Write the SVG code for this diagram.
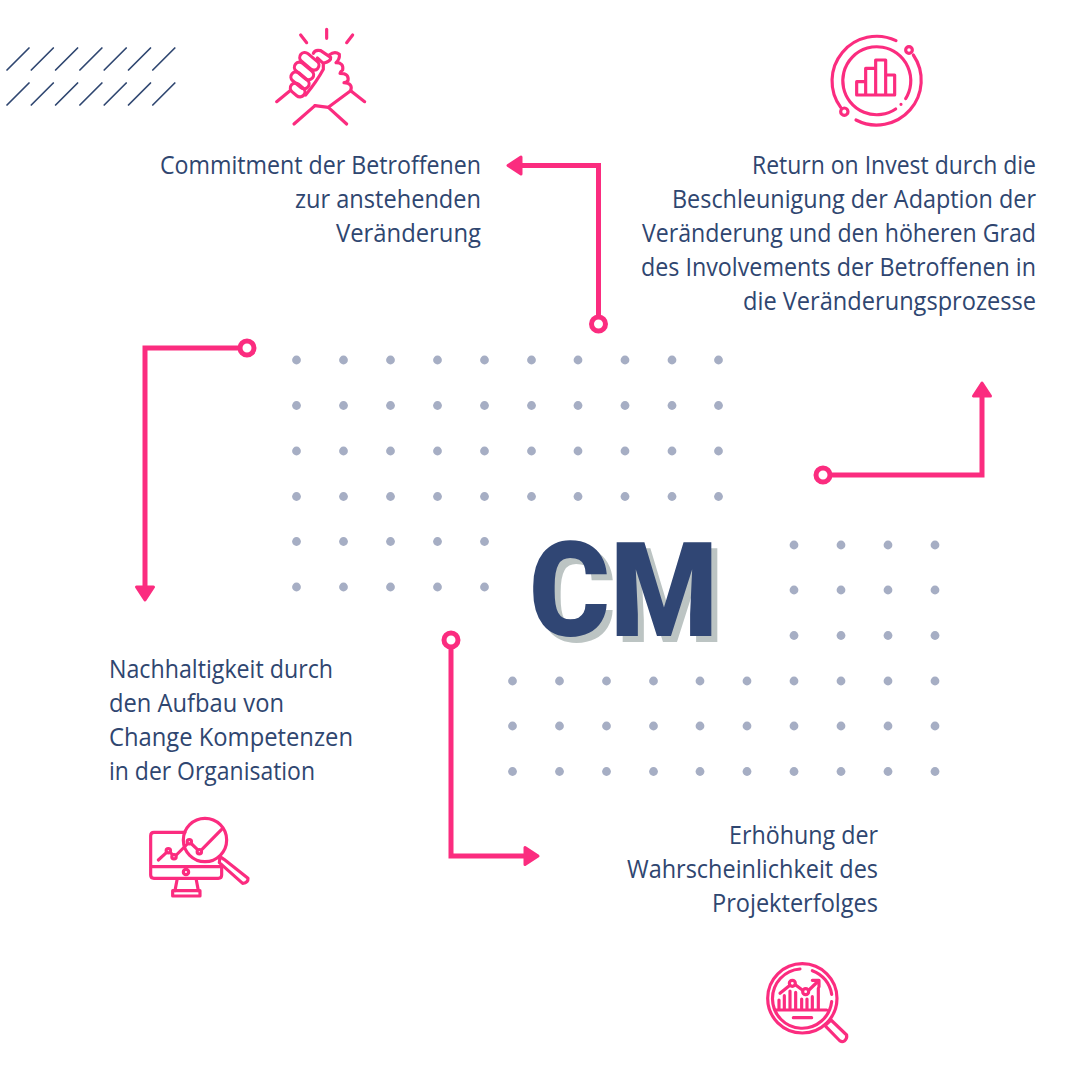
<svg xmlns="http://www.w3.org/2000/svg" width="1080" height="1080" viewBox="0 0 1080 1080">
<style>
.t{font-family:"Open Sans","Noto Sans",sans-serif;font-size:25.5px;fill:#2f4670}
.cm{font-family:"Roboto","Liberation Sans",sans-serif;font-weight:900;font-size:132px;fill:#304674;filter:drop-shadow(6px 6px 0 #bcc4c3)}
.c{fill:none;stroke:#fb2c7f;stroke-width:5}
.h{fill:#fb2c7f;stroke:#fb2c7f;stroke-width:3;stroke-linejoin:round}
.i{fill:none;stroke:#fb2c7f;stroke-width:9.5;stroke-linecap:round;stroke-linejoin:round}
.s{stroke:#2f4670;stroke-width:1.7;stroke-linecap:round}
</style>
<defs>
<circle id="d" r="4.4" fill="#a6aec4"/>
<path id="sl" d="M0 0L22 -22"/>
</defs>
<g id="slashes" class="s">
<use href="#sl" x="7" y="70"/><use href="#sl" x="31.3" y="70"/><use href="#sl" x="55.6" y="70"/><use href="#sl" x="79.9" y="70"/><use href="#sl" x="104.2" y="70"/><use href="#sl" x="128.5" y="70"/><use href="#sl" x="152.8" y="70"/>
<use href="#sl" x="7" y="105"/><use href="#sl" x="31.3" y="105"/><use href="#sl" x="55.6" y="105"/><use href="#sl" x="79.9" y="105"/><use href="#sl" x="104.2" y="105"/><use href="#sl" x="128.5" y="105"/><use href="#sl" x="152.8" y="105"/>
</g>
<g id="dots-a">
<use href="#d" x="296.5" y="360"/><use href="#d" x="343.5" y="360"/><use href="#d" x="390.5" y="360"/><use href="#d" x="437.5" y="360"/><use href="#d" x="484.5" y="360"/><use href="#d" x="531.5" y="360"/><use href="#d" x="578" y="360"/><use href="#d" x="625" y="360"/><use href="#d" x="672" y="360"/><use href="#d" x="718.5" y="360"/>
<use href="#d" x="296.5" y="405.5"/><use href="#d" x="343.5" y="405.5"/><use href="#d" x="390.5" y="405.5"/><use href="#d" x="437.5" y="405.5"/><use href="#d" x="484.5" y="405.5"/><use href="#d" x="531.5" y="405.5"/><use href="#d" x="578" y="405.5"/><use href="#d" x="625" y="405.5"/><use href="#d" x="672" y="405.5"/><use href="#d" x="718.5" y="405.5"/>
<use href="#d" x="296.5" y="451"/><use href="#d" x="343.5" y="451"/><use href="#d" x="390.5" y="451"/><use href="#d" x="437.5" y="451"/><use href="#d" x="484.5" y="451"/><use href="#d" x="531.5" y="451"/><use href="#d" x="578" y="451"/><use href="#d" x="625" y="451"/><use href="#d" x="672" y="451"/><use href="#d" x="718.5" y="451"/>
<use href="#d" x="296.5" y="496.5"/><use href="#d" x="343.5" y="496.5"/><use href="#d" x="390.5" y="496.5"/><use href="#d" x="437.5" y="496.5"/><use href="#d" x="484.5" y="496.5"/><use href="#d" x="531.5" y="496.5"/><use href="#d" x="578" y="496.5"/><use href="#d" x="625" y="496.5"/><use href="#d" x="672" y="496.5"/><use href="#d" x="718.5" y="496.5"/>
<use href="#d" x="296.5" y="541.5"/><use href="#d" x="343.5" y="541.5"/><use href="#d" x="390.5" y="541.5"/><use href="#d" x="437.5" y="541.5"/><use href="#d" x="484.5" y="541.5"/>
<use href="#d" x="296.5" y="587"/><use href="#d" x="343.5" y="587"/><use href="#d" x="390.5" y="587"/><use href="#d" x="437.5" y="587"/><use href="#d" x="484.5" y="587"/>
</g>
<g id="dots-b">
<use href="#d" x="794" y="545"/><use href="#d" x="841" y="545"/><use href="#d" x="888" y="545"/><use href="#d" x="935" y="545"/>
<use href="#d" x="794" y="590"/><use href="#d" x="841" y="590"/><use href="#d" x="888" y="590"/><use href="#d" x="935" y="590"/>
<use href="#d" x="794" y="635.5"/><use href="#d" x="841" y="635.5"/><use href="#d" x="888" y="635.5"/><use href="#d" x="935" y="635.5"/>
<use href="#d" x="512.5" y="681"/><use href="#d" x="559.5" y="681"/><use href="#d" x="606.5" y="681"/><use href="#d" x="653.5" y="681"/><use href="#d" x="700" y="681"/><use href="#d" x="747" y="681"/><use href="#d" x="794" y="681"/><use href="#d" x="841" y="681"/><use href="#d" x="888" y="681"/><use href="#d" x="935" y="681"/>
<use href="#d" x="512.5" y="726"/><use href="#d" x="559.5" y="726"/><use href="#d" x="606.5" y="726"/><use href="#d" x="653.5" y="726"/><use href="#d" x="700" y="726"/><use href="#d" x="747" y="726"/><use href="#d" x="794" y="726"/><use href="#d" x="841" y="726"/><use href="#d" x="888" y="726"/><use href="#d" x="935" y="726"/>
<use href="#d" x="512.5" y="771.5"/><use href="#d" x="559.5" y="771.5"/><use href="#d" x="606.5" y="771.5"/><use href="#d" x="653.5" y="771.5"/><use href="#d" x="700" y="771.5"/><use href="#d" x="747" y="771.5"/><use href="#d" x="794" y="771.5"/><use href="#d" x="841" y="771.5"/><use href="#d" x="888" y="771.5"/><use href="#d" x="935" y="771.5"/>
</g>
<g id="cm">
<text class="cm" x="529" y="636" textLength="189" lengthAdjust="spacingAndGlyphs">CM</text>
</g>
<g id="connectors">
<path class="c" d="M598.5 317V165.500H520"/><circle class="c" cx="598.500" cy="324" r="7"/><path class="h" d="M508 165.500L521 157V174Z"/>
<path class="c" d="M240 348H145V588"/><circle class="c" cx="247" cy="348" r="7"/><path class="h" d="M145 600L136.500 587H153.500Z"/>
<path class="c" d="M830 475H982V395"/><circle class="c" cx="823" cy="475" r="7"/><path class="h" d="M982 383L973.500 396H990.500Z"/>
<path class="c" d="M451 647V856H526"/><circle class="c" cx="451" cy="640" r="7"/><path class="h" d="M538 856L525 847.500V864.500Z"/>
</g>
<g id="node-commitment">
<g transform="translate(260 20) scale(.3333)" class="i">
<path d="M122 45L140 68M200 28V55M278 45L260 68M50 245L90 212M272 212L314 245M102 312L165 257M205 262L260 312"/>
<rect x="-33" y="-15" width="66" height="30" rx="15" transform="translate(148 124) rotate(40)"/>
<rect x="-33" y="-15" width="66" height="30" rx="15" transform="translate(132 153) rotate(40)"/>
<rect x="-31" y="-15" width="62" height="30" rx="15" transform="translate(120 181) rotate(40)"/>
<rect x="-24" y="-15" width="48" height="30" rx="15" transform="translate(113 210) rotate(40)"/>
<path d="M160 100Q165 88 182 92L212 112Q214 124 190 130L172 114M208 105Q224 92 238 103Q240 118 228 128Q252 128 248 150Q240 156 240 160Q268 160 264 182Q258 188 252 188Q280 190 272 212L205 262L165 257M190 130L190 148Q170 185 137 225"/>
</g>
<text class="t" x="160" y="174" textLength="321" lengthAdjust="spacingAndGlyphs">Commitment der Betroffenen</text>
<text class="t" x="295" y="208" textLength="186" lengthAdjust="spacingAndGlyphs">zur anstehenden</text>
<text class="t" x="336" y="242" textLength="145" lengthAdjust="spacingAndGlyphs">Veränderung</text>
</g>
<g id="node-roi">
<g transform="translate(820 25) scale(.3333)" class="i">
<path d="M228 47A134 134 0 0 0 62 247M280 90A134 134 0 0 1 108 285M227 252A102 102 0 1 1 257 221M243 238L243 238"/>
<circle cx="267" cy="75" r="10"/><circle cx="73" cy="260" r="11"/>
<path d="M110 210V170H137M137 210V130H167V210M167 130V105H197V210M197 150H224V210H110"/>
</g>
<text class="t" x="752" y="174" textLength="284" lengthAdjust="spacingAndGlyphs">Return on Invest durch die</text>
<text class="t" x="672" y="208" textLength="364" lengthAdjust="spacingAndGlyphs">Beschleunigung der Adaption der</text>
<text class="t" x="642" y="242" textLength="394" lengthAdjust="spacingAndGlyphs">Veränderung und den höheren Grad</text>
<text class="t" x="641" y="276" textLength="395" lengthAdjust="spacingAndGlyphs">des Involvements der Betroffenen in</text>
<text class="t" x="743" y="310" textLength="293" lengthAdjust="spacingAndGlyphs">die Veränderungsprozesse</text>
</g>
<g id="node-nachhaltigkeit">
<text class="t" x="109" y="678" textLength="224" lengthAdjust="spacingAndGlyphs">Nachhaltigkeit durch</text>
<text class="t" x="109" y="712" textLength="175" lengthAdjust="spacingAndGlyphs">den Aufbau von</text>
<text class="t" x="109" y="746" textLength="244" lengthAdjust="spacingAndGlyphs">Change Kompetenzen</text>
<text class="t" x="109" y="780" textLength="206" lengthAdjust="spacingAndGlyphs">in der Organisation</text>
<g transform="translate(140 810) scale(.3333)" class="i">
<path d="M135 67H42Q32 67 32 77V195Q32 205 42 205H235Q245 205 245 195V165M32 170H245M112 205L105 242M168 205L175 242"/>
<rect x="98" y="242" width="82" height="16"/>
<circle cx="138" cy="186" r="8"/>
<circle cx="195" cy="90" r="65"/>
<path d="M55 150L80 127M90 127L97 133M109 135L142 102M155 102L172 118M186 118L245 58M240 140L252 148L324 205Q325 218 308 220L238 158Z"/>
<circle cx="85" cy="122" r="6.5"/><circle cx="102" cy="140" r="6.5"/><circle cx="148" cy="95" r="6.5"/><circle cx="178" cy="125" r="6.5"/>
</g>
</g>
<g id="node-erhoehung">
<text class="t" x="729" y="844" textLength="149" lengthAdjust="spacingAndGlyphs">Erhöhung der</text>
<text class="t" x="627" y="878" textLength="251" lengthAdjust="spacingAndGlyphs">Wahrscheinlichkeit des</text>
<text class="t" x="712" y="912" textLength="166" lengthAdjust="spacingAndGlyphs">Projekterfolges</text>
<g transform="translate(755 955) scale(.3333)" class="i">
<circle cx="142" cy="130" r="104"/>
<path d="M135 42A89 89 0 1 0 230 140M172 47A89 89 0 0 1 230 118"/>
<path d="M72 165V135M88 165V122M105 165V108M122 165V112M140 165V132M156 165V132M172 165V125M190 165V100M60 165H215M115 188H170"/>
<path d="M75 115L103 92M122 90L142 105M162 105L190 78M172 76H192V95"/>
<circle cx="112" cy="85" r="9"/><circle cx="152" cy="110" r="9"/>
<path d="M210 212L228 195L275 240Q277 250 268 258Q262 262 255 258Z"/>
</g>
</g>
</svg>
